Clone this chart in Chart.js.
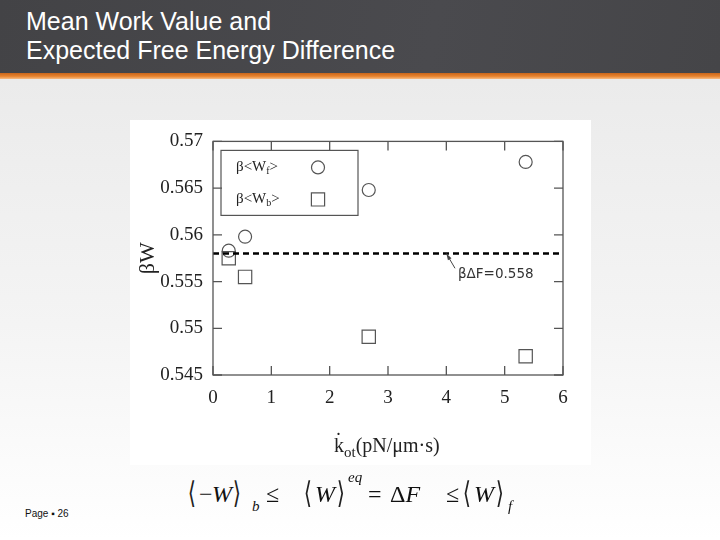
<!DOCTYPE html>
<html>
<head>
<meta charset="utf-8">
<title>Mean Work Value and Expected Free Energy Difference</title>
<script src="https://cdn.jsdelivr.net/npm/chart.js@4.4.0/dist/chart.umd.min.js"></script>
<style>
  html, body { margin: 0; padding: 0; }
  body {
    width: 720px; height: 540px; position: relative; overflow: hidden;
    background: linear-gradient(#e8e8e8, #f4f4f4 60%, #ffffff);
    font-family: "Liberation Sans", Arial, sans-serif;
  }
  #header { position: absolute; left: 0; top: 0; width: 720px; height: 73px;
    background: linear-gradient(100deg, #434346, #4a4a4e 60%, #454548); }
  #bar { position: absolute; left: 0; top: 73px; width: 720px; height: 6px;
    background: linear-gradient(#c8651b, #e8842f 55%, #f6bd86); }
  #title { position: absolute; left: 26px; top: 7px; color: #fff; font-size: 25px; line-height: 29px; }
  #figure { position: absolute; left: 130px; top: 120px; width: 461px; height: 345px; background: #fff; }
  #xtitle { position: absolute; left: 334px; top: 435px; font-family: "Liberation Serif", serif;
    font-size: 20px; line-height: 20px; color: #222; white-space: nowrap; }
  #xtitle sub { font-size: 15px; vertical-align: -5px; }
  .eq { position: absolute; font-family: "Liberation Serif", serif; font-size: 24px; line-height: 24px;
    color: #111; white-space: nowrap; }
  .it { font-style: italic; }
  .br { font-family: "DejaVu Serif", serif; font-size: 30px; line-height: 30px; transform: scaleX(0.7); color: #222; }
  .sm { font-size: 15px; line-height: 15px; font-style: italic; }
  #footer { position: absolute; left: 25px; top: 508px; font-size: 10px; color: #111; }
</style>
</head>
<body>
<div id="header"></div>
<div id="bar"></div>
<div id="title">Mean Work Value and<br>Expected Free Energy Difference</div>

<div id="figure"><canvas id="chart" width="461" height="345"></canvas></div>
<div id="xtitle">k&#775;<sub>ot</sub>(pN/μm·s)</div>

<!-- equation under the figure -->
<span class="eq br" style="left:186px; top:478px;">⟨</span>
<span class="eq" style="left:199px; top:482px;">−</span>
<span class="eq it" style="left:212px; top:482px;">W</span>
<span class="eq br" style="left:231px; top:478px;">⟩</span>
<span class="eq sm" style="left:252px; top:499px;">b</span>
<span class="eq" style="left:266px; top:482px;">≤</span>
<span class="eq br" style="left:302px; top:478px;">⟨</span>
<span class="eq it" style="left:315px; top:482px;">W</span>
<span class="eq br" style="left:335px; top:478px;">⟩</span>
<span class="eq sm" style="left:348px; top:470px;">eq</span>
<span class="eq" style="left:368px; top:482px;">=</span>
<span class="eq" style="left:390px; top:482px;">Δ<span class="it">F</span></span>
<span class="eq" style="left:446px; top:482px;">≤</span>
<span class="eq br" style="left:461px; top:478px;">⟨</span>
<span class="eq it" style="left:474px; top:482px;">W</span>
<span class="eq br" style="left:494px; top:478px;">⟩</span>
<span class="eq sm" style="left:508px; top:499px;">f</span>

<div id="footer">Page ▪ 26</div>

<script>
// values
const kotValues = [0.27, 0.55, 2.67, 5.36];
const forwardWork = [0.5583, 0.5598, 0.5648, 0.5678];
const backwardWork = [0.5575, 0.5555, 0.5491, 0.547];
const freeEnergy = 0.558;
const xTicks = [0, 1, 2, 3, 4, 5, 6];
const yTicks = [0.545, 0.55, 0.555, 0.56, 0.565, 0.57];
const legendNames = ["β<W", "β<W"];
const legendSubs = ["f", "b"];
const noteText = "βΔF=0.558";
const notePoint = [4.0, 0.558];   // where the arrow points
const noteAnchor = [4.2, 0.5561]; // arrow tail / text start

const lineColor = "#555";

function toPoints(xs, ys) {
    return xs.map(function (x, i) { return { x: x, y: ys[i] }; });
}

// frame, inward ticks, legend box and the dF note
const framePlugin = {
    id: "frame",
    afterDatasetsDraw(chart) {
        const ctx = chart.ctx;
        const a = chart.chartArea;
        const xs = chart.scales.x, ys = chart.scales.y;
        const tl = 9;
        ctx.save();
        ctx.strokeStyle = lineColor;
        ctx.lineWidth = 1.3;
        ctx.strokeRect(a.left, a.top, a.right - a.left, a.bottom - a.top);
        ctx.beginPath();
        xTicks.forEach(function (v) {
            const px = xs.getPixelForValue(v);
            ctx.moveTo(px, a.bottom); ctx.lineTo(px, a.bottom - tl);
            ctx.moveTo(px, a.top); ctx.lineTo(px, a.top + tl);
        });
        yTicks.forEach(function (v) {
            const py = ys.getPixelForValue(v);
            ctx.moveTo(a.left, py); ctx.lineTo(a.left + tl, py);
            ctx.moveTo(a.right, py); ctx.lineTo(a.right - tl, py);
        });
        ctx.stroke();

        // note with arrow
        const tipX = xs.getPixelForValue(notePoint[0]), tipY = ys.getPixelForValue(notePoint[1]);
        const tailX = xs.getPixelForValue(noteAnchor[0]) - 3, tailY = ys.getPixelForValue(noteAnchor[1]) - 3;
        ctx.strokeStyle = "#444";
        ctx.lineWidth = 1;
        ctx.beginPath();
        ctx.moveTo(tailX, tailY); ctx.lineTo(tipX, tipY);
        ctx.stroke();
        const ang = Math.atan2(tipY - tailY, tipX - tailX);
        ctx.fillStyle = "#444";
        ctx.beginPath();
        ctx.moveTo(tipX, tipY);
        ctx.lineTo(tipX - 7 * Math.cos(ang - 0.3), tipY - 7 * Math.sin(ang - 0.3));
        ctx.lineTo(tipX - 7 * Math.cos(ang + 0.3), tipY - 7 * Math.sin(ang + 0.3));
        ctx.closePath();
        ctx.fill();
        ctx.fillStyle = "#333";
        ctx.font = "13.5px 'DejaVu Sans', sans-serif";
        ctx.textBaseline = "middle";
        ctx.textAlign = "left";
        ctx.fillText(noteText, xs.getPixelForValue(noteAnchor[0]), ys.getPixelForValue(noteAnchor[1]) + 3);

        // legend box
        const bx = a.left + 8, by = a.top + 9, bw = 137, bh = 65;
        ctx.strokeStyle = lineColor;
        ctx.lineWidth = 1.2;
        ctx.strokeRect(bx, by, bw, bh);
        legendNames.forEach(function (name, i) {
            const cy = by + 17 + i * 32;
            const tx = bx + 15;
            ctx.fillStyle = "#222";
            ctx.font = "15px 'Liberation Serif', serif";
            ctx.textBaseline = "middle";
            ctx.fillText(name, tx, cy);
            const w1 = ctx.measureText(name).width;
            ctx.font = "10px 'Liberation Serif', serif";
            ctx.fillText(legendSubs[i], tx + w1, cy + 4);
            const w2 = ctx.measureText(legendSubs[i]).width;
            ctx.font = "15px 'Liberation Serif', serif";
            ctx.fillText(">", tx + w1 + w2, cy);
            ctx.strokeStyle = lineColor;
            ctx.lineWidth = 1.2;
            ctx.beginPath();
            if (i === 0) ctx.arc(bx + 97, cy, 6.5, 0, Math.PI * 2);
            else ctx.rect(bx + 97 - 6.6, cy - 6.6, 13.2, 13.2);
            ctx.stroke();
        });
        ctx.restore();
    }
};

new Chart(document.getElementById("chart").getContext("2d"), {
    type: "scatter",
    data: {
        datasets: [
            {
                label: "βΔF",
                type: "line",
                data: toPoints([xTicks[0], xTicks[xTicks.length - 1]], [freeEnergy, freeEnergy]),
                borderColor: "#000",
                borderWidth: 2.5,
                borderDash: [6, 4],
                pointRadius: 0,
                fill: false
            },
            {
                label: "β<Wf>",
                data: toPoints(kotValues, forwardWork),
                pointStyle: "circle",
                pointRadius: 6.5,
                borderColor: lineColor,
                borderWidth: 1.2,
                backgroundColor: "transparent"
            },
            {
                label: "β<Wb>",
                data: toPoints(kotValues, backwardWork),
                pointStyle: "rect",
                pointRadius: 9.4,
                borderColor: lineColor,
                borderWidth: 1.2,
                backgroundColor: "transparent"
            }
        ]
    },
    options: {
        responsive: false,
        animation: false,
        events: [],
        layout: { padding: { top: 19, right: 28, left: 0, bottom: 0 } },
        plugins: { legend: { display: false }, tooltip: { enabled: false } },
        scales: {
            x: {
                type: "linear",
                min: 0, max: 6,
                afterBuildTicks: function (s) { s.ticks = xTicks.map(function (v) { return { value: v }; }); },
                afterFit: function (s) { s.height = 90; },
                grid: { display: false, drawTicks: false },
                border: { display: false },
                ticks: { padding: 12, color: "#222", font: { family: "'Liberation Serif', serif", size: 19 } }
            },
            y: {
                type: "linear",
                min: 0.545, max: 0.57,
                afterBuildTicks: function (s) { s.ticks = yTicks.map(function (v) { return { value: v }; }); },
                afterFit: function (s) { s.width = 83; },
                grid: { display: false, drawTicks: false },
                border: { display: false },
                title: { display: true, text: "βW", color: "#222", padding: { top: 5 },
                    font: { family: "'Liberation Serif', serif", size: 22 } },
                ticks: {
                    padding: 10, color: "#222", font: { family: "'Liberation Serif', serif", size: 19 },
                    callback: function (v) { return String(Number(v.toFixed(3))); }
                }
            }
        }
    },
    plugins: [framePlugin]
});
</script>
</body>
</html>
